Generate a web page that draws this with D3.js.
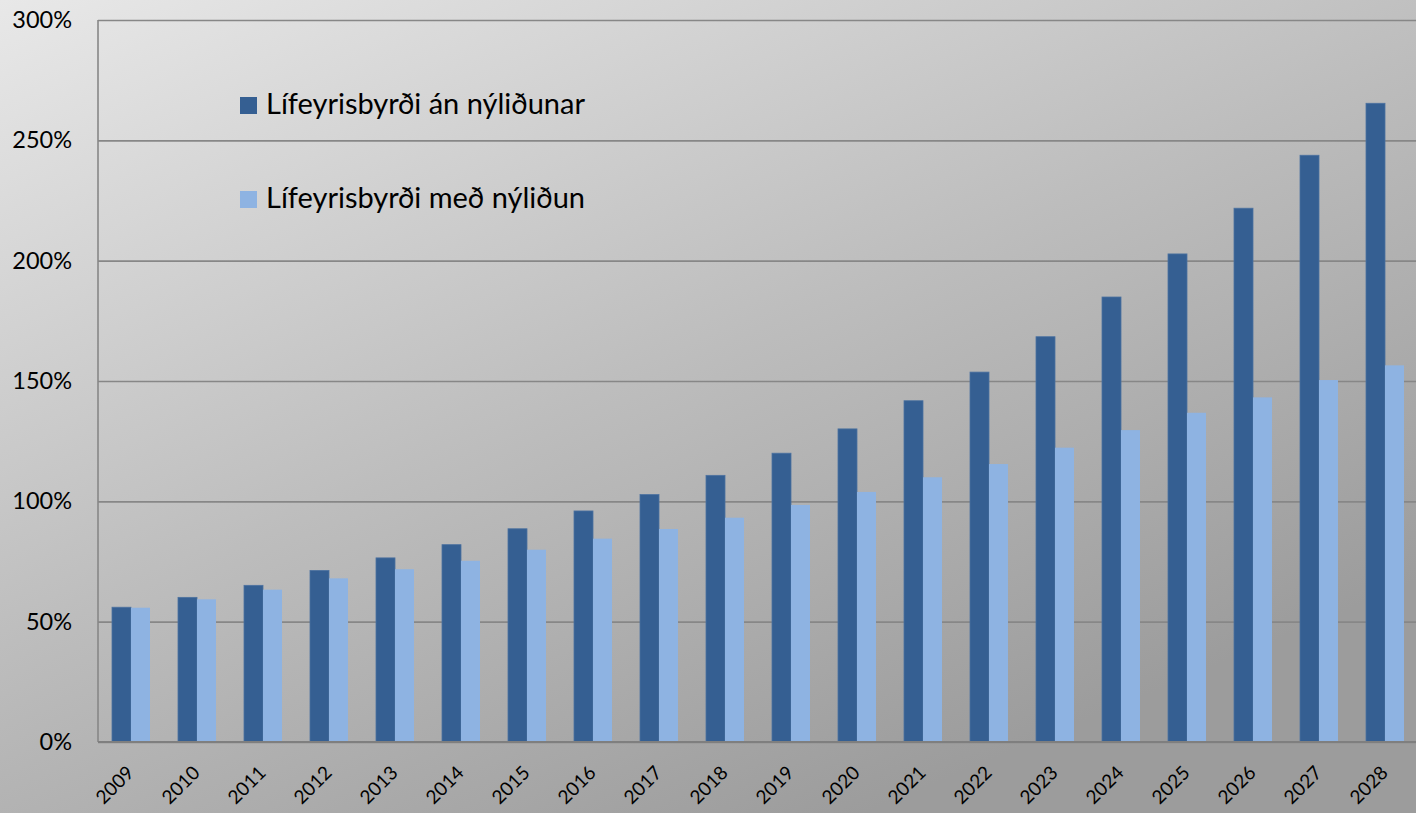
<!DOCTYPE html>
<html>
<head>
<meta charset="utf-8">
<script src="https://cdn.jsdelivr.net/npm/d3@7"></script>
<style>
  html, body { margin: 0; padding: 0; overflow: hidden; }
  svg { display: block; }
  text { font-family: Lato, "Open Sans", sans-serif; fill: #000; }
</style>
</head>
<body>
<svg id="chart" width="1416" height="813"></svg>
<script>
// Ár (flokkar)
const years = ["2009","2010","2011","2012","2013","2014","2015","2016","2017","2018",
               "2019","2020","2021","2022","2023","2024","2025","2026","2027","2028"];

// Lífeyrisbyrði í % – án nýliðunar
const withoutRecruits = [56.0, 60.1, 65.1, 71.3, 76.5, 82.0, 88.6, 96.0, 102.8, 110.8,
                         120.0, 130.1, 141.8, 153.7, 168.4, 184.9, 202.8, 221.8, 243.8, 265.4];

// Lífeyrisbyrði í % – með nýliðun
const withRecruits = [55.8, 59.3, 63.3, 68.0, 71.8, 75.3, 79.9, 84.5, 88.5, 93.2,
                      98.5, 103.9, 110.0, 115.5, 122.3, 129.6, 136.8, 143.2, 150.4, 156.5];

const seriesNames = ["Lífeyrisbyrði án nýliðunar", "Lífeyrisbyrði með nýliðun"];
const yTicks = [0, 50, 100, 150, 200, 250, 300];

const colors = ["#355f92", "#8eb3e2"];

const W = 1416, H = 813;
const margin = { left: 98, top: 20, right: -2, bottom: 71 };
const plotRight = W - margin.right;
const plotBottom = H - margin.bottom;

const svg = d3.select("#chart");

// Bakgrunnur: grár litstigull, ljósastur efst til vinstri
const defs = svg.append("defs");
const grad = defs.append("linearGradient")
  .attr("id", "bg")
  .attr("gradientUnits", "userSpaceOnUse")
  .attr("x1", 0).attr("y1", 0)
  .attr("x2", 420).attr("y2", 1000);
grad.append("stop").attr("offset", "0%").attr("stop-color", "#e8e8e8");
grad.append("stop").attr("offset", "55%").attr("stop-color", "#bdbdbd");
grad.append("stop").attr("offset", "100%").attr("stop-color", "#9c9c9c");

svg.append("rect").attr("width", W).attr("height", H).attr("fill", "url(#bg)");

// Kvarðar
const x0 = d3.scaleBand()
  .domain(years)
  .range([margin.left, plotRight])
  .paddingInner(28 / 66)
  .paddingOuter(14 / 66);

const x1 = d3.scaleBand()
  .domain([0, 1])
  .range([0, x0.bandwidth()]);

const y = d3.scaleLinear()
  .domain([0, 300])
  .range([plotBottom, margin.top]);

// Hnitalínur
const grid = svg.append("g")
  .attr("transform", `translate(${margin.left},0)`)
  .call(d3.axisLeft(y).tickValues(yTicks).tickSize(-(plotRight - margin.left)).tickFormat(""));
grid.select(".domain").remove();
grid.selectAll("line").attr("stroke", "#878787").attr("stroke-width", 1.6);

// Lóðrétt ás-lína
svg.append("line")
  .attr("x1", margin.left).attr("x2", margin.left)
  .attr("y1", y(300)).attr("y2", y(0))
  .attr("stroke", "#878787").attr("stroke-width", 1.6);

// Súlur
const rows = years.map((yr, i) => ({ year: yr, values: [withoutRecruits[i], withRecruits[i]] }));

const groups = svg.append("g").selectAll("g")
  .data(rows)
  .join("g")
  .attr("transform", d => `translate(${x0(d.year)},0)`);

groups.selectAll("rect")
  .data(d => d.values.map((v, k) => ({ k, v })))
  .join("rect")
  .attr("x", d => x1(d.k))
  .attr("width", x1.bandwidth())
  .attr("y", d => y(d.v))
  .attr("height", d => y(0) - y(d.v))
  .attr("fill", d => colors[d.k])
  .attr("stroke", d => d.k === 0 ? "#4d72a0" : "none")
  .attr("stroke-width", 0.8);

// Lárétt ás-lína
svg.append("line")
  .attr("x1", margin.left).attr("x2", plotRight)
  .attr("y1", y(0)).attr("y2", y(0))
  .attr("stroke", "#7f7f7f").attr("stroke-width", 2);

// Y-ás merki
const yAxis = svg.append("g")
  .attr("transform", `translate(${margin.left},0)`)
  .call(d3.axisLeft(y).tickValues(yTicks).tickSize(0).tickPadding(26).tickFormat(d => d + "%"));
yAxis.select(".domain").remove();
yAxis.selectAll("text")
  .style("font-family", "Lato, 'Open Sans', sans-serif")
  .style("font-size", "23.5px")
  .attr("fill", "#000");

// X-ás merki, hallandi um 45°
const xAxis = svg.append("g")
  .attr("transform", `translate(0,${y(0)})`)
  .call(d3.axisBottom(x0).tickSize(0).tickPadding(0));
xAxis.select(".domain").remove();
xAxis.selectAll("text")
  .style("font-family", "Lato, 'Open Sans', sans-serif")
  .style("font-size", "19px")
  .attr("fill", "#000")
  .attr("text-anchor", "end")
  .attr("dy", 0)
  .attr("transform", "translate(4,32) rotate(-45)");

// Skýringar
const legend = svg.append("g");
const legendPos = [{ sx: 240, sy: 97, tx: 266, ty: 114 }, { sx: 240, sy: 191, tx: 266, ty: 208 }];
seriesNames.forEach((name, i) => {
  const p = legendPos[i];
  legend.append("rect")
    .attr("x", p.sx).attr("y", p.sy)
    .attr("width", 17).attr("height", 17)
    .attr("fill", colors[i]);
  legend.append("text")
    .attr("x", p.tx).attr("y", p.ty)
    .style("font-size", "29px")
    .text(name);
});
</script>
</body>
</html>
